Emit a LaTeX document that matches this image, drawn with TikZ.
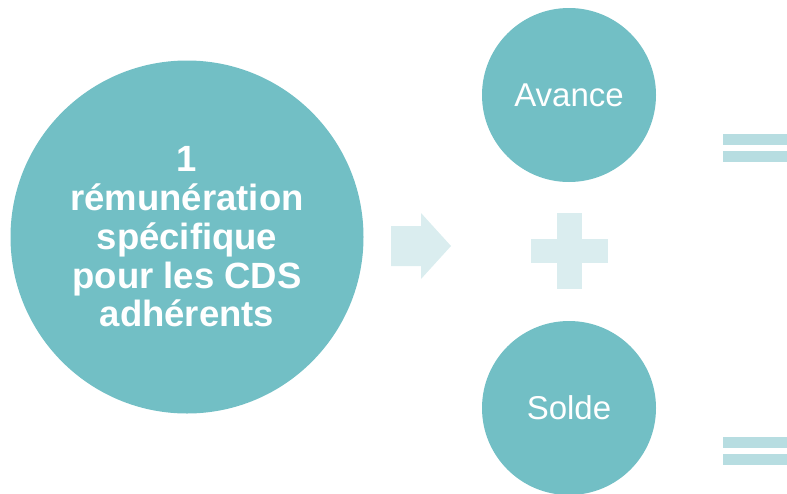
\documentclass[tikz,border=0pt]{standalone}
\usepackage{fontspec}
\setmainfont{Liberation Sans}
\newfontfamily\discbold{Liberation Sans Bold}
\usetikzlibrary{positioning}

\definecolor{discteal}{HTML}{72BFC5}
\definecolor{signpale}{HTML}{DAEDEF}
\definecolor{equalpale}{HTML}{B7DDE1}

\begin{document}
\begin{tikzpicture}[x=1pt,y=-1pt,
  disc/.style={circle,fill=discteal,text=white,inner sep=0pt,minimum size=174pt,
    font=\fontsize{33}{38}\selectfont},
  bigdisc/.style={disc,minimum size=353pt,align=center,
    font=\discbold\fontsize{36.5}{38.75}\selectfont},
  sign/.style={fill=signpale,draw=none},
  equalbar/.style={fill=equalpale,draw=none}
]
\useasboundingbox (0,0) rectangle (787,493);
\clip (0,0) rectangle (787,493);
\node[bigdisc] (remun) at (187,237) {1\\rémunération\\spécifique\\pour les CDS\\adhérents};
\node[disc] (avance) at (569,95) {Avance};
\node[disc] (solde) at (569,408) {Solde};
\fill[sign] (391,226) -- (421,226) -- (421,213) -- (451,246) -- (421,279) -- (421,266) -- (391,266) -- cycle;
\fill[sign] (557,213) rectangle (582,289);
\fill[sign] (531,239) rectangle (608,263);
\foreach \y in {134,151,437,454}
  \fill[equalbar] (723,\y) rectangle (790,\y+11);
\end{tikzpicture}
\end{document}
